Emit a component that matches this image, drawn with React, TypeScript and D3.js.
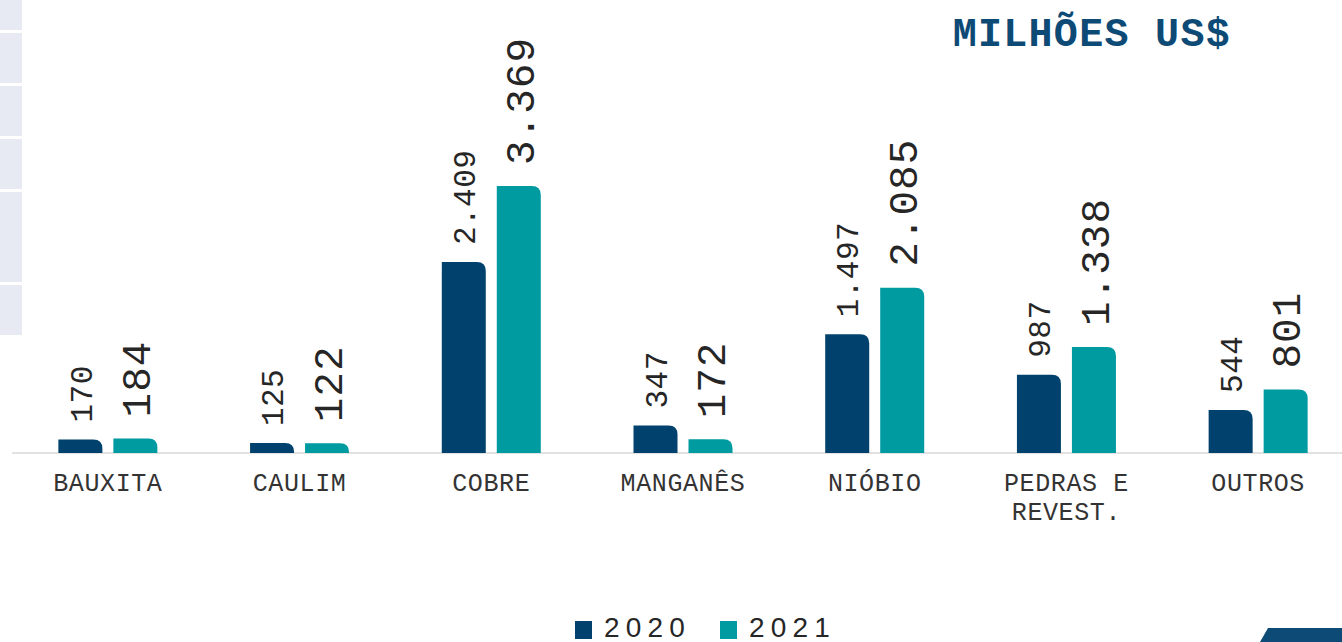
import React from "react";
import * as d3 from "d3";

const categories = ["BAUXITA", "CAULIM", "COBRE", "MANGANÊS", "NIÓBIO", "PEDRAS E|REVEST.", "OUTROS"];
const series = ["2020", "2021"];
const values2020 = [170, 125, 2409, 347, 1497, 987, 544];
const values2021 = [184, 122, 3369, 172, 2085, 1338, 801];
const title = "MILHÕES US$";

const W = 1342;
const H = 642;
const colors: Record<string, string> = { "2020": "#00416D", "2021": "#009AA1" };
const mono = "'Courier New', Courier, 'Nimbus Mono PS', 'Nimbus Mono L', FreeMono, 'Liberation Mono', monospace";

const ptBR = d3.formatLocale({ decimal: ",", thousands: ".", grouping: [3], currency: ["R$", ""] });
const fmt = ptBR.format(",d");

function topRoundedRect(x: number, y: number, w: number, h: number, r: number) {
  const rr = Math.min(r, h, w / 2);
  const p = d3.path();
  p.moveTo(x, y + h);
  p.lineTo(x, y);
  p.lineTo(x + w - rr, y);
  p.quadraticCurveTo(x + w, y, x + w, y + rr);
  p.lineTo(x + w, y + h);
  p.closePath();
  return p.toString();
}

export default function App() {
  const x0 = d3.scaleBand<string>().domain(categories).range([12, 1354]).paddingInner(0.4836).paddingOuter(0.2418);
  const x1 = d3.scaleBand<string>().domain(series).range([0, x0.bandwidth()]).paddingInner(0.2).paddingOuter(0);
  const y = d3.scaleLinear().domain([0, 3369]).range([453, 186]);
  const data: Record<string, number[]> = { "2020": values2020, "2021": values2021 };
  const leftBoxes = [[0, 30], [33, 83], [86, 136], [139, 189], [192, 282], [285, 335]];

  return (
    <svg width={W} height={H} style={{ position: "absolute", left: 0, top: 0, background: "#fff" }}>
      {leftBoxes.map(([a, b], i) => (
        <rect key={i} x={0} y={a} width={22} height={b - a} fill="#E8EAF3" />
      ))}
      <text x={1231} y={46} textAnchor="end" fontFamily={mono} fontWeight="bold" fontSize={40} fill="#0D4A75" letterSpacing={1.3}>
        {title}
      </text>
      <line x1={12} x2={W} y1={y(0)} y2={y(0)} stroke="#D9D9D9" strokeWidth={1.5} />
      {categories.map((c, i) => {
        const gx = x0(c)!;
        return (
          <g key={c}>
            {series.map((s) => {
              const v = data[s][i];
              const bx = gx + x1(s)!;
              const by = y(v);
              const cx = bx + x1.bandwidth() / 2;
              const fs = s === "2020" ? 31 : 41;
              const off = s === "2020" ? 17 : 21;
              return (
                <g key={s}>
                  <path d={topRoundedRect(bx, by, x1.bandwidth(), y(0) - by, 9)} fill={colors[s]} />
                  <text
                    transform={`translate(${cx},${by - off}) rotate(-90)`}
                    dy="0.36em"
                    fontFamily={mono}
                    fontSize={fs}
                    fill="#262626"
                    textAnchor="start"
                    letterSpacing={s === "2021" ? 1 : 0.5}
                  >
                    {fmt(v)}
                  </text>
                </g>
              );
            })}
            <text x={gx + x0.bandwidth() / 2} y={491} textAnchor="middle" fontFamily={mono} fontSize={25} fill="#333" letterSpacing={0.6}>
              {c.split("|").map((line, j) => (
                <tspan key={j} x={gx + x0.bandwidth() / 2} dy={j === 0 ? 0 : 29}>
                  {line}
                </tspan>
              ))}
            </text>
          </g>
        );
      })}
      {series.map((s, i) => {
        const lx = 575 + i * 145;
        return (
          <g key={s}>
            <rect x={lx} y={621} width={17} height={18} fill={colors[s]} />
            <text x={lx + 29} y={637} fontFamily="'Liberation Sans', Arial, sans-serif" fontSize={28} letterSpacing={6.2} fill="#262626">
              {s}
            </text>
          </g>
        );
      })}
      <path d={`M1260,${H} L1268,628 L${W},628 L${W},${H} Z`} fill="#0D4A75" />
    </svg>
  );
}
